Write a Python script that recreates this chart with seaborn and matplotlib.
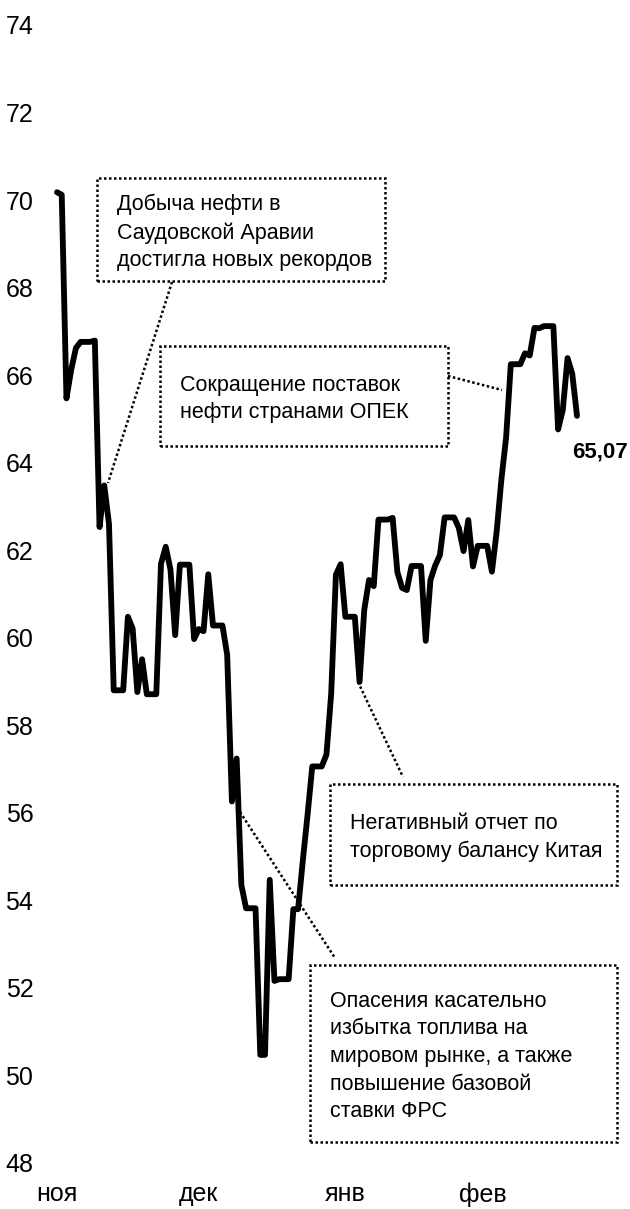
# Brent price, Nov 2018 - Mar 2019, with dotted annotation boxes

import pandas as pd
import seaborn as sns
import matplotlib.pyplot as plt
from matplotlib.patches import Rectangle
from matplotlib.lines import Line2D

# daily values (weekends / holidays carry the last close)
nov_prices = [70.18, 70.12, 65.47, 66.12, 66.62, 66.76, 66.76, 66.76, 66.79, 62.53,
              63.48, 62.60, 58.80, 58.80, 58.80, 60.48, 60.21, 58.76, 59.51, 58.71]
dec_prices = [58.71, 58.71, 61.69, 62.08, 61.56, 60.06, 61.67, 61.67, 61.67, 59.97,
              60.20, 60.15, 61.45, 60.28, 60.28, 60.28, 59.61, 56.26, 57.24, 54.35,
              53.82, 53.82, 53.82, 50.47, 50.47, 54.47, 52.16, 52.20, 52.20, 52.20,
              53.80]
jan_prices = [53.80, 54.91, 55.95, 57.06, 57.06, 57.06, 57.33, 58.72, 61.44, 61.68,
              60.48, 60.48, 60.48, 58.99, 60.64, 61.32, 61.18, 62.70, 62.70, 62.70,
              62.74, 61.50, 61.14, 61.09, 61.64, 61.64, 61.64, 59.93, 61.32, 61.65,
              61.89]
feb_prices = [62.75, 62.75, 62.75, 62.51, 61.98, 62.69, 61.63, 62.10, 62.10, 62.10,
              61.51, 62.42, 63.61, 64.57, 66.25, 66.25, 66.25, 66.50, 66.45, 67.08,
              67.07, 67.12, 67.12, 67.12, 64.76, 65.21, 66.39, 66.03]
mar_prices = [65.07]

prices = nov_prices + dec_prices + jan_prices + feb_prices + mar_prices
dates = pd.date_range('2018-11-11', periods=len(prices), freq='D')
df = pd.DataFrame({'date': dates, 'price': prices})

y_ticks = list(range(48, 75, 2))
month_ticks = pd.to_datetime(['2018-11-11', '2018-12-11', '2019-01-11', '2019-02-09'])
month_labels = ['ноя', 'дек', 'янв', 'фев']
last_label = '65,07'

note_saudi = 'Добыча нефти в\nСаудовской Аравии\nдостигла новых рекордов'
note_opec = 'Сокращение поставок\nнефти странами ОПЕК'
note_china = 'Негативный отчет по\nторговому балансу Китая'
note_fed = ('Опасения касательно\nизбытка топлива на\nмировом рынке, а также\n'
            'повышение базовой\nставки ФРС')

W, H = 630, 1209

sns.set_theme(style='white')
plt.rcParams['font.family'] = ['Liberation Sans', 'DejaVu Sans']

fig = plt.figure(figsize=(W / 100, H / 100), dpi=100)
ax = fig.add_axes([57 / W, 1 - 1163 / H, 520 / W, 1138 / H])

sns.lineplot(data=df, x='date', y='price', ax=ax, color='black',
             linewidth=4.2, clip_on=False)

ax.set_xlim(dates[0], dates[-1])
ax.set_ylim(48, 74)
ax.set_yticks(y_ticks)
ax.set_yticklabels([str(v) for v in y_ticks])
ax.set_xticks(month_ticks)
ax.set_xticklabels(month_labels)
ax.tick_params(axis='y', length=0, pad=17, labelsize=18, colors='black')
ax.tick_params(axis='x', length=0, pad=14, labelsize=18, colors='black')
ax.set_xlabel('')
ax.set_ylabel('')
sns.despine(ax=ax, left=True, bottom=True)


def fpx(x, y):
    # pixel position (top-left origin) -> figure fraction
    return x / W, 1 - y / H


dots = (0, (1, 1))


def note_box(x0, y0, x1, y1, text):
    r = Rectangle(fpx(x0, y1), (x1 - x0) / W, (y1 - y0) / H, transform=fig.transFigure,
                  fill=False, edgecolor='black', linewidth=1.8, linestyle=dots)
    fig.add_artist(r)
    fig.text(*fpx(x0 + 20, (y0 + y1) / 2 + 3), text, ha='left', va='center',
             fontsize=15.5, linespacing=1.42, color='black')


def connector(x0, y0, x1, y1):
    a, b = fpx(x0, y0)
    c, d = fpx(x1, y1)
    fig.add_artist(Line2D([a, c], [b, d], transform=fig.transFigure,
                          color='black', linewidth=1.8, linestyle=dots))


note_box(97, 178, 385, 281, note_saudi)
note_box(160, 346, 448, 446, note_opec)
note_box(330, 784, 617, 885, note_china)
note_box(310, 965, 617, 1142, note_fed)

connector(172, 282, 108, 483)
connector(448, 376, 502, 390)
connector(358, 682, 403, 777)
connector(240, 812, 335, 958)

fig.text(*fpx(600, 452), last_label, ha='center', va='center', fontsize=16,
         fontweight='bold', color='black')

fig.savefig('out.png', dpi=100)
